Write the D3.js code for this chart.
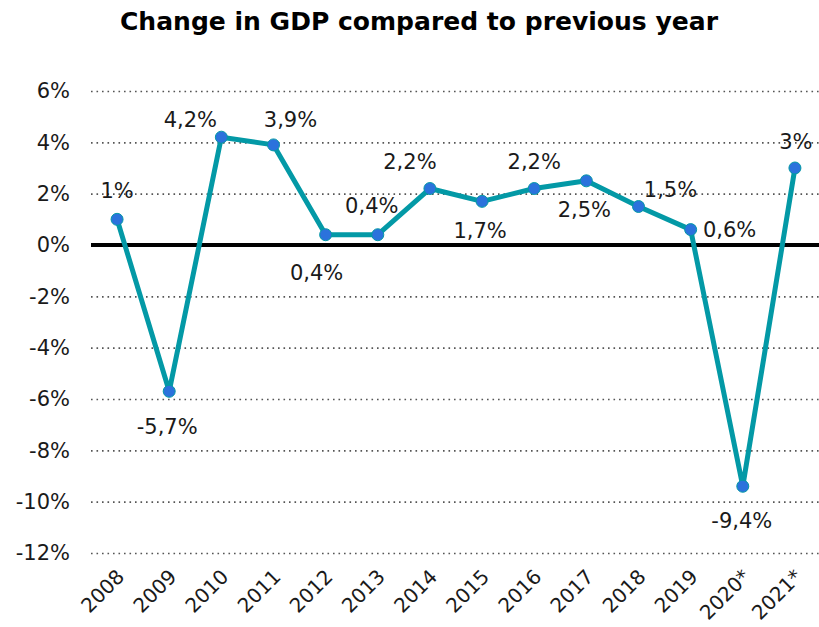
<!DOCTYPE html>
<html>
<head>
<meta charset="utf-8">
<script src="https://cdn.jsdelivr.net/npm/d3@7"></script>
<style>
  html, body { margin: 0; padding: 0; background: #ffffff; }
  svg { display: block; }
</style>
</head>
<body>
<svg id="chart" width="819" height="627"></svg>
<script>
// GDP change by year, percent
const years = ["2008", "2009", "2010", "2011", "2012", "2013", "2014", "2015", "2016", "2017", "2018", "2019", "2020*", "2021*"];
const gdpChange = [1, -5.7, 4.2, 3.9, 0.4, 0.4, 2.2, 1.7, 2.2, 2.5, 1.5, 0.6, -9.4, 3];
const valueLabels = ["1%", "-5,7%", "4,2%", "3,9%", "0,4%", "0,4%", "2,2%", "1,7%", "2,2%", "2,5%", "1,5%", "0,6%", "-9,4%", "3%"];
const yTicks = [6, 4, 2, 0, -2, -4, -6, -8, -10, -12];

// label placement relative to each point (dx, dy in px)
const labelOffsets = [
  [0, -28], [-2, 36], [-31, -17], [17, -25], [-9, 38], [-6, -29], [-20, -27],
  [-2, 30], [0, -27], [-2, 29], [32, -17], [39, 0], [-1, 35], [1, -26]
];

const svg = d3.select("#chart");
const W = 819, H = 627;

const x = d3.scalePoint().domain(years).range([91, 821]).padding(0.5);
const y = d3.scaleLinear().domain([-12, 6]).range([553, 91]);

const textColor = "#1a1a1a";
const lineColor = "#0399a6";
const dotColor = "#2b72dc";

// title
svg.append("text")
  .attr("x", 419)
  .attr("y", 30)
  .attr("text-anchor", "middle")
  .attr("font-family", "'DejaVu Sans', sans-serif")
  .attr("font-weight", "bold")
  .attr("font-size", 25)
  .attr("textLength", 598)
  .attr("lengthAdjust", "spacingAndGlyphs")
  .attr("fill", "#000")
  .text("Change in GDP compared to previous year");

// dotted grid lines via y axis
const yAxis = d3.axisLeft(y)
  .tickValues(yTicks)
  .tickSize(-(W - 91))
  .tickPadding(21)
  .tickFormat(d => d + "%");

const gy = svg.append("g")
  .attr("transform", "translate(91,0)")
  .call(yAxis);
gy.select(".domain").remove();
gy.selectAll(".tick line")
  .attr("stroke", "#555")
  .attr("stroke-width", 1.6)
  .attr("stroke-dasharray", "1.6,3.9")
  .attr("stroke-opacity", d => d === 0 ? 0 : 1);
gy.selectAll(".tick text")
  .attr("font-family", "'DejaVu Sans', Verdana, sans-serif")
  .attr("font-size", 21)
  .attr("fill", textColor);

// zero baseline
svg.append("line")
  .attr("x1", 91).attr("x2", W)
  .attr("y1", y(0)).attr("y2", y(0))
  .attr("stroke", "#000")
  .attr("stroke-width", 4);

// x axis labels, rotated
const xAxis = d3.axisBottom(x).tickSize(0).tickPadding(0);
const gx = svg.append("g")
  .attr("transform", `translate(0,${y(-12)})`)
  .call(xAxis);
gx.select(".domain").remove();
gx.selectAll(".tick text")
  .attr("font-family", "'DejaVu Sans', Verdana, sans-serif")
  .attr("font-size", 20)
  .attr("fill", textColor)
  .attr("text-anchor", "end")
  .attr("dy", null)
  .attr("y", 0)
  .attr("transform", "translate(3,20) rotate(-45)")
  .attr("dominant-baseline", "central");

// series line
const pts = years.map((yr, i) => ({ yr, v: gdpChange[i], label: valueLabels[i], off: labelOffsets[i] }));

svg.append("path")
  .datum(pts)
  .attr("fill", "none")
  .attr("stroke", lineColor)
  .attr("stroke-width", 5)
  .attr("stroke-linejoin", "round")
  .attr("d", d3.line().x(d => x(d.yr)).y(d => y(d.v)));

svg.append("g")
  .selectAll("circle")
  .data(pts)
  .join("circle")
  .attr("cx", d => x(d.yr))
  .attr("cy", d => y(d.v))
  .attr("r", 6)
  .attr("fill", dotColor)
  .attr("stroke", lineColor)
  .attr("stroke-width", 1);

// value labels
svg.append("g")
  .selectAll("text")
  .data(pts)
  .join("text")
  .attr("x", d => x(d.yr) + d.off[0])
  .attr("y", d => y(d.v) + d.off[1])
  .attr("text-anchor", "middle")
  .attr("dominant-baseline", "central")
  .attr("font-family", "'DejaVu Sans', Verdana, sans-serif")
  .attr("font-size", 21)
  .attr("fill", textColor)
  .text(d => d.label);
</script>
</body>
</html>
